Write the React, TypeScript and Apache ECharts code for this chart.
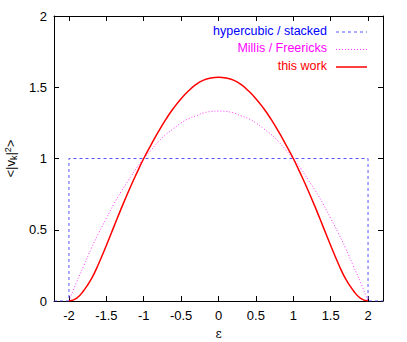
import React, { useEffect, useRef } from "react";
import * as echarts from "echarts";

const epsilon = [-2.0, -1.9, -1.8, -1.7, -1.6, -1.5, -1.4, -1.3, -1.2, -1.1, -1.0, -0.9, -0.8, -0.7, -0.6, -0.5, -0.4, -0.3, -0.2, -0.1, 0.0,
  0.1, 0.2, 0.3, 0.4, 0.5, 0.6, 0.7, 0.8, 0.9, 1.0, 1.1, 1.2, 1.3, 1.4, 1.5, 1.6, 1.7, 1.8, 1.9, 2.0];
const thisWork = [0, 0.018, 0.075, 0.155, 0.265, 0.39, 0.52, 0.65, 0.774, 0.89, 1.0, 1.098, 1.192, 1.278, 1.354, 1.42, 1.475, 1.52, 1.55, 1.565, 1.57,
  1.565, 1.55, 1.52, 1.475, 1.42, 1.354, 1.278, 1.192, 1.098, 1.0, 0.89, 0.774, 0.65, 0.52, 0.39, 0.265, 0.155, 0.075, 0.018, 0];
const millisFreericks = [0, 0.13, 0.25, 0.37, 0.48, 0.58, 0.68, 0.77, 0.85, 0.93, 1.0, 1.06, 1.12, 1.17, 1.21, 1.25, 1.28, 1.30, 1.32, 1.33, 1.333,
  1.33, 1.32, 1.30, 1.28, 1.25, 1.21, 1.17, 1.12, 1.06, 1.0, 0.93, 0.85, 0.77, 0.68, 0.58, 0.48, 0.37, 0.25, 0.13, 0];
const hypercubicX = [-2.2, -2, -2, 2, 2, 2.2];
const hypercubicY = [0, 0, 1, 1, 0, 0];
const xTicks = [-2, -1.5, -1, -0.5, 0, 0.5, 1, 1.5, 2];
const yTicks = [0, 0.5, 1, 1.5, 2];
const seriesNames = ["hypercubic / stacked", "Millis / Freericks", "this work"];
const seriesColors = ["#0000ff", "#ff00ff", "#ff0000"];

export default function App() {
  const ref = useRef<HTMLDivElement>(null);
  useEffect(() => {
    const chart = echarts.init(ref.current!, null, { renderer: "svg" });
    const font = "Liberation Sans, Arial, sans-serif";
    const axisLine = { show: true, onZero: false, lineStyle: { color: "#000", width: 1 } };
    const tick = { show: true, inside: true, length: 5, lineStyle: { color: "#000" } };
    const lineStyles = [
      { stroke: "#5555ff", lineWidth: 1, lineDash: [3, 3] },
      { stroke: "#ff33ff", lineWidth: 1, lineDash: [1, 2] },
      { stroke: "#ff0000", lineWidth: 1.5 },
    ];
    const rowsY = [32, 49.5, 67];
    const legendGraphics: any[] = [];
    seriesNames.forEach((n, i) => {
      legendGraphics.push({
        type: "text",
        right: 80,
        top: rowsY[i] - 8,
        style: { text: n, fill: seriesColors[i], font: `12.5px ${font}`, textAlign: "right" },
      });
      legendGraphics.push({
        type: "line",
        shape: { x1: 336, y1: rowsY[i], x2: 367, y2: rowsY[i] },
        style: lineStyles[i],
      });
    });
    chart.setOption({
      animation: false,
      backgroundColor: "#fff",
      grid: { left: 54, top: 16, right: 24, bottom: 41, outerBoundsMode: "none" },
      graphic: legendGraphics,
      xAxis: [
        {
          type: "value",
          min: -2.2,
          max: 2.2,
          axisLine,
          axisTick: { ...tick, customValues: xTicks },
          axisLabel: { customValues: xTicks, color: "#000", fontFamily: font, fontSize: 13, margin: 8, formatter: (v: number) => String(v) },
          splitLine: { show: false },
          name: "ε",
          nameLocation: "middle",
          nameGap: 27,
          nameTextStyle: { color: "#000", fontFamily: "DejaVu Serif, serif", fontSize: 12 },
        },
        {
          type: "value",
          position: "top",
          min: -2.2,
          max: 2.2,
          axisLine,
          axisTick: { ...tick, customValues: xTicks },
          axisLabel: { show: false, customValues: xTicks },
          splitLine: { show: false },
        },
      ],
      yAxis: [
        {
          type: "value",
          min: 0,
          max: 2,
          interval: 0.5,
          axisLine,
          axisTick: tick,
          axisLabel: { color: "#000", fontFamily: font, fontSize: 13, margin: 7, formatter: (v: number) => (yTicks.includes(v) ? String(v) : "") },
          splitLine: { show: false },
          name: "<|v{sub|k}|{sup|2}>",
          nameLocation: "middle",
          nameGap: 31,
          nameRotate: 90,
          nameTextStyle: {
            color: "#000",
            fontFamily: font,
            fontSize: 13,
            rich: {
              sub: { fontSize: 9, fontFamily: font, color: "#000", verticalAlign: "bottom", padding: [6, 0, 0, 0] },
              sup: { fontSize: 9, fontFamily: font, color: "#000", verticalAlign: "top", padding: [0, 0, 6, 0] },
            },
          },
        },
        {
          type: "value",
          position: "right",
          min: 0,
          max: 2,
          interval: 0.5,
          axisLine,
          axisTick: tick,
          axisLabel: { show: false },
          splitLine: { show: false },
        },
      ],
      series: [
        {
          name: seriesNames[0],
          type: "line",
          showSymbol: false,
          symbol: "none",
          data: hypercubicX.map((x, i) => [x, hypercubicY[i]]),
          lineStyle: { color: "#5555ff", width: 1, type: [3, 3] },
        },
        {
          name: seriesNames[1],
          type: "line",
          showSymbol: false,
          symbol: "none",
          smooth: true,
          data: epsilon.map((x, i) => [x, millisFreericks[i]]),
          lineStyle: { color: "#ff33ff", width: 1, type: [1, 2] },
        },
        {
          name: seriesNames[2],
          type: "line",
          showSymbol: false,
          symbol: "none",
          smooth: true,
          data: epsilon.map((x, i) => [x, thisWork[i]]),
          lineStyle: { color: "#ff0000", width: 1.5 },
        },
      ],
    });
    return () => chart.dispose();
  }, []);
  return <div ref={ref} style={{ position: "fixed", left: 0, top: 0, width: 407, height: 342 }} />;
}
